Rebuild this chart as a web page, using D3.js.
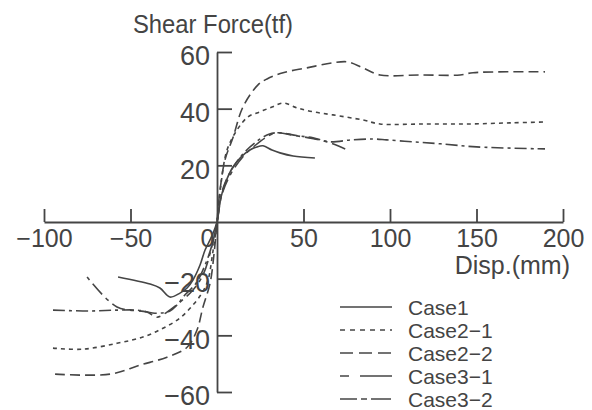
<!DOCTYPE html>
<html><head><meta charset="utf-8">
<script src="https://cdn.jsdelivr.net/npm/d3@7"></script>
<style>
body{margin:0;background:#fff}
svg{display:block}
text{font-family:"Liberation Sans",Arial,Helvetica,sans-serif;fill:#444}
</style>
</head><body>
<svg id="c" width="592" height="410"></svg>
<script>
// ---- data ----
const xTicks = [-100, -50, 0, 50, 100, 150, 200];
const yTicks = [-60, -40, -20, 20, 40, 60];
const seriesNames = ["Case1", "Case2-1", "Case2-2", "Case3-1", "Case3-2"];

const case1Disp  = [-57.2,-38.7,-33,-27.2,-21.4,-17.3,-13.9,-9.8,-6.9,-3,0,2,5,9.2,14,19,23,26.6,31.8,36.4,44,56.6];
const case1Force = [-19.4,-21.9,-23.3,-26.5,-25.1,-23.3,-20.5,-15.2,-9.9,-5,0,8,14,19.4,23,25.4,26.5,26.9,25.4,24.4,23.3,22.6];

const case21Disp  = [-94.8,-77.5,-57.8,-42.8,-31.2,-21.4,-13.9,-8.7,-5.2,-2.5,0,2,5.8,11.6,17.9,24.9,31.8,38.2,46.2,55.5,67,84.4,94.2,120,146,170,189.6];
const case21Force = [-44.5,-44.9,-42.8,-40.6,-37.5,-33.9,-29.3,-25.1,-20.5,-11,0,12,25.4,32.5,37.1,38.9,40.6,42,40.3,38.9,37.8,36,34.6,34.6,34.6,35,35.3];

const case22Disp  = [-93.6,-61.8,-44.5,-28.9,-17.3,-11.6,-8.1,-4,-1.5,0,1.5,4.6,9.2,15,23.7,28.9,38.2,52,67,75.7,84.4,94.2,117,140.5,148,189.6];
const case22Force = [-53.7,-53.7,-50.5,-47.7,-44.2,-38.2,-30,-21.6,-10,0,10,21.9,29.7,40.6,48.4,50.5,52.7,54.4,56.2,56.5,54.4,51.9,51.9,51.9,52.7,53];

const case31Disp  = [-75.1,-57.8,-40.5,-34.7,-28.9,-21.4,-13.9,-8.1,-3.5,0,3,8,15,22,30,35,45,55,65,75];
const case31Force = [-19.4,-30,-31.8,-33.6,-31.8,-28.3,-24,-18.7,-9.9,0,10,17,23,27,30.5,31.5,30.5,29.5,28,25.5];

const case32Disp  = [-94.8,-73.4,-57.8,-46.2,-34.7,-27.2,-23.1,-19.1,-12.1,-6.9,-2.9,0,3,8,15,22,30,36,46,55.5,65,78,90,98,113,129,150,189.6];
const case32Force = [-31.1,-31.4,-31.1,-31.1,-32.2,-31.4,-29.3,-26.1,-21.6,-15.2,-8.1,0,11,18,24,28,31,31.5,30.5,29.7,28.3,29,29.3,29,28.3,27.6,26.5,25.8];

// ---- build ----
const series = [
  {name: seriesNames[0], xs: case1Disp,  ys: case1Force,  dash: null,          legendDash: null},
  {name: seriesNames[1], xs: case21Disp, ys: case21Force, dash: "4,4",         legendDash: "5,5"},
  {name: seriesNames[2], xs: case22Disp, ys: case22Force, dash: "10,5",        legendDash: "13,6"},
  {name: seriesNames[3], xs: case31Disp, ys: case31Force, dash: "4,5,14,5",    legendDash: "9,11,32,5"},
  {name: seriesNames[4], xs: case32Disp, ys: case32Force, dash: "12,4,3,4",    legendDash: "17,4,6,4,20"}
];

const ink = "#454545";
const svg = d3.select("#c");
const x = d3.scaleLinear().domain([-100, 200]).range([44, 563]);
const y = d3.scaleLinear().domain([-60, 60]).range([392, 52]);

// x axis (ticks point up, labels below)
const gx = svg.append("g").attr("transform", `translate(0,${y(0)})`)
  .call(d3.axisBottom(x).tickValues(xTicks).tickSizeInner(-13).tickSizeOuter(0).tickPadding(7));
gx.selectAll("text").style("font-size", "25px").attr("fill", ink);
gx.selectAll(".tick").filter(d => d === 0).select("line").remove();
gx.selectAll(".tick").filter(d => d === 0).select("text").attr("x", -10);

// y axis (ticks point right, labels left)
const gy = svg.append("g").attr("transform", `translate(${x(0)},0)`)
  .call(d3.axisLeft(y).tickValues(yTicks).tickSizeInner(-15).tickSizeOuter(0).tickPadding(7));
gy.selectAll("text").style("font-size", "27px").attr("fill", ink).attr("dy", "0.47em");

svg.selectAll(".domain, .tick line").attr("stroke", ink).attr("stroke-width", 1.8);
svg.selectAll("g text").style("font-family", "'Liberation Sans', Arial, sans-serif");

// curves
const line = d3.line().x(d => x(d[0])).y(d => y(d[1])).curve(d3.curveCatmullRom.alpha(0.5));
series.forEach(s => {
  const pts = s.xs.map((v, i) => [v, s.ys[i]]);
  svg.append("path").attr("d", line(pts)).attr("fill", "none")
    .attr("stroke", ink).attr("stroke-width", 1.6)
    .attr("stroke-dasharray", s.dash);
});

// titles
svg.append("text").attr("x", 133).attr("y", 33).style("font-size", "25px")
  .attr("textLength", 160).attr("lengthAdjust", "spacingAndGlyphs").text("Shear Force(tf)");
svg.append("text").attr("x", 570).attr("y", 274).attr("text-anchor", "end").style("font-size", "25px").text("Disp.(mm)");

// legend
const lg = svg.append("g");
series.forEach((s, i) => {
  const ly = 307 + i * 23;
  lg.append("line").attr("x1", 340).attr("x2", 392).attr("y1", ly).attr("y2", ly)
    .attr("stroke", ink).attr("stroke-width", 1.6).attr("stroke-dasharray", s.legendDash);
  lg.append("text").attr("x", 408).attr("y", ly + 8).style("font-size", "21px").text(s.name.replace("-", "\u2212"));
});
</script>
</body></html>
